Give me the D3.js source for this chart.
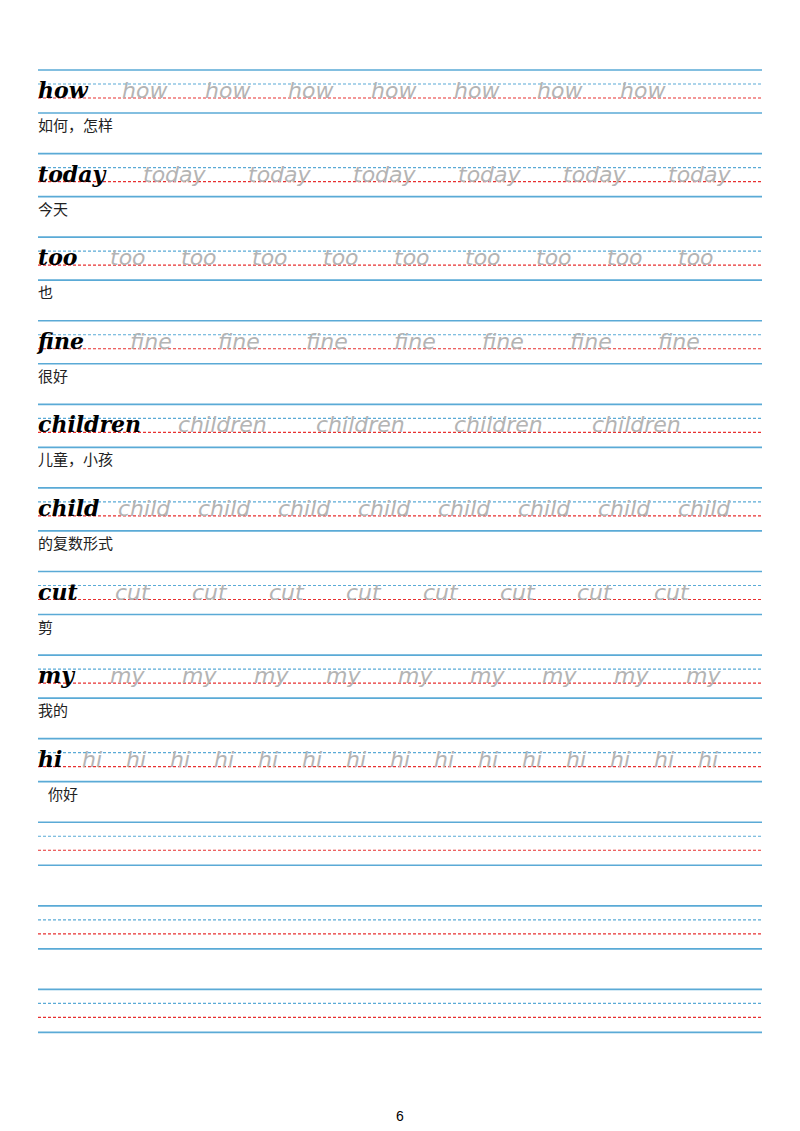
<!DOCTYPE html><html><head><meta charset="utf-8"><script src="https://cdn.jsdelivr.net/npm/d3@7"></script>
<style>body{margin:0;background:#fff}</style></head><body><svg id="c" width="800" height="1131"></svg>
<script>
const words=["how","today","too","fine","children","child","cut","my","hi"];
const meanings=["如何，怎样","今天","也","很好","儿童，小孩","的复数形式","剪","我的","你好"];
const repeats=[7,6,9,7,4,8,8,9,15];
const firstX=[122,143,110,130,178,118,115,110,82];
const stepX=[83,105,71,88,138,80,77,72,44];
const rowCount=12;
const svg=d3.select("#c");
const y=d3.scaleLinear().domain([0,rowCount]).range([70,1073]);
const x=d3.scaleLinear().domain([0,1]).range([38,762]);
const lines=[{o:0,c:"#5aaad6",d:null,w:1.6},{o:14,c:"#5aaad6",d:"3,2",w:1.2},{o:28,c:"#e83030",d:"3,2",w:1.2},{o:43,c:"#5aaad6",d:null,w:1.6}];
for(let r=0;r<rowCount;r++){
  lines.forEach(l=>{svg.append("line").attr("x1",x(0)).attr("x2",x(1)).attr("y1",y(r)+l.o).attr("y2",y(r)+l.o)
   .attr("stroke",l.c).attr("stroke-width",l.w).attr("stroke-dasharray",l.d);});
}
words.forEach((w,i)=>{
  const by=y(i)+28;
  svg.append("text").attr("x",38).attr("y",by).attr("font-family","'DejaVu Serif', serif").attr("font-style","italic")
    .attr("font-weight","bold").attr("font-size",22).attr("fill","#000").text(w);
  d3.range(repeats[i]).forEach(k=>{
    svg.append("text").attr("x",firstX[i]+k*stepX[i]).attr("y",by).attr("font-family","'DejaVu Sans'").attr("font-style","italic")
      .attr("font-size",22).attr("font-weight",200).attr("fill","#b4b4b4").text(w);
  });
  svg.append("text").attr("x",i===8?48:38).attr("y",y(i)+61).attr("font-family","'Noto Sans CJK SC'")
    .attr("font-size",15).attr("fill","#222").text(meanings[i]);
});
svg.append("text").attr("x",400).attr("y",1121).attr("text-anchor","middle").attr("font-family","Arial,'Liberation Sans'").attr("font-size",14).text("6");
</script></body></html>
